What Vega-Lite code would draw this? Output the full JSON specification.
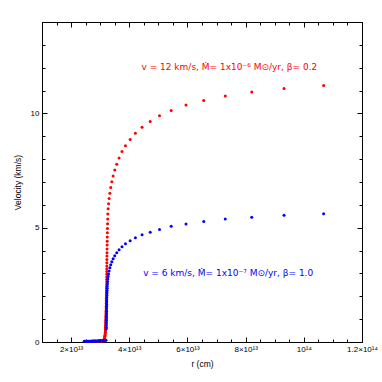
{
  "$schema": "https://vega.github.io/schema/vega-lite/v6.json",
  "width": 320,
  "height": 320,
  "autosize": {"type": "none"},
  "padding": {"left": 42, "top": 22, "right": 20, "bottom": 40},
  "background": "white",
  "config": {
    "view": {"stroke": "black", "strokeWidth": 1},
    "font": "Liberation Sans",
    "axis": {"domainColor": "black", "tickColor": "black", "labelColor": "black", "titleColor": "black", "labelFont": "Liberation Sans", "titleFont": "Liberation Sans", "labelFontSize": 8, "titleFontSize": 8.5, "titleFontWeight": "normal", "grid": false, "labelOverlap": false, "labelFlush": false, "labelBound": false}
  },
  "datasets": {
    "pts": [
      {"r": 10.68e13, "v": 11.22, "s": "red"},
      {"r": 9.32e13, "v": 11.09, "s": "red"},
      {"r": 8.21e13, "v": 10.94, "s": "red"},
      {"r": 7.30e13, "v": 10.76, "s": "red"},
      {"r": 6.56e13, "v": 10.57, "s": "red"},
      {"r": 5.95e13, "v": 10.37, "s": "red"},
      {"r": 5.44e13, "v": 10.13, "s": "red"},
      {"r": 5.04e13, "v": 9.90, "s": "red"},
      {"r": 4.72e13, "v": 9.65, "s": "red"},
      {"r": 4.44e13, "v": 9.39, "s": "red"},
      {"r": 4.21e13, "v": 9.13, "s": "red"},
      {"r": 4.03e13, "v": 8.86, "s": "red"},
      {"r": 3.87e13, "v": 8.59, "s": "red"},
      {"r": 3.75e13, "v": 8.33, "s": "red"},
      {"r": 3.65e13, "v": 8.05, "s": "red"},
      {"r": 3.57e13, "v": 7.78, "s": "red"},
      {"r": 3.50e13, "v": 7.52, "s": "red"},
      {"r": 3.445e13, "v": 7.26, "s": "red"},
      {"r": 3.40e13, "v": 7.01, "s": "red"},
      {"r": 3.363e13, "v": 6.76, "s": "red"},
      {"r": 3.333e13, "v": 6.51, "s": "red"},
      {"r": 3.308e13, "v": 6.28, "s": "red"},
      {"r": 3.288e13, "v": 6.05, "s": "red"},
      {"r": 3.272e13, "v": 5.83, "s": "red"},
      {"r": 3.262e13, "v": 5.60, "s": "red"},
      {"r": 3.258e13, "v": 5.38, "s": "red"},
      {"r": 3.254e13, "v": 5.17, "s": "red"},
      {"r": 3.250e13, "v": 4.97, "s": "red"},
      {"r": 3.247e13, "v": 4.78, "s": "red"},
      {"r": 3.244e13, "v": 4.59, "s": "red"},
      {"r": 3.241e13, "v": 4.41, "s": "red"},
      {"r": 3.239e13, "v": 4.24, "s": "red"},
      {"r": 3.237e13, "v": 4.07, "s": "red"},
      {"r": 3.235e13, "v": 3.91, "s": "red"},
      {"r": 3.233e13, "v": 3.76, "s": "red"},
      {"r": 3.231e13, "v": 3.61, "s": "red"},
      {"r": 3.229e13, "v": 3.47, "s": "red"},
      {"r": 3.228e13, "v": 3.33, "s": "red"},
      {"r": 3.227e13, "v": 3.20, "s": "red"},
      {"r": 3.226e13, "v": 3.08, "s": "red"},
      {"r": 3.225e13, "v": 2.96, "s": "red"},
      {"r": 3.224e13, "v": 2.84, "s": "red"},
      {"r": 3.223e13, "v": 2.73, "s": "red"},
      {"r": 3.222e13, "v": 2.62, "s": "red"},
      {"r": 3.221e13, "v": 2.52, "s": "red"},
      {"r": 3.220e13, "v": 2.42, "s": "red"},
      {"r": 3.219e13, "v": 2.33, "s": "red"},
      {"r": 3.218e13, "v": 2.24, "s": "red"},
      {"r": 3.217e13, "v": 2.15, "s": "red"},
      {"r": 3.216e13, "v": 2.07, "s": "red"},
      {"r": 3.215e13, "v": 1.98, "s": "red"},
      {"r": 3.214e13, "v": 1.91, "s": "red"},
      {"r": 3.213e13, "v": 1.83, "s": "red"},
      {"r": 3.212e13, "v": 1.76, "s": "red"},
      {"r": 3.211e13, "v": 1.69, "s": "red"},
      {"r": 3.210e13, "v": 1.62, "s": "red"},
      {"r": 3.209e13, "v": 1.56, "s": "red"},
      {"r": 3.208e13, "v": 1.50, "s": "red"},
      {"r": 3.207e13, "v": 1.44, "s": "red"},
      {"r": 3.206e13, "v": 1.38, "s": "red"},
      {"r": 3.205e13, "v": 1.33, "s": "red"},
      {"r": 3.204e13, "v": 1.28, "s": "red"},
      {"r": 3.203e13, "v": 1.23, "s": "red"},
      {"r": 3.202e13, "v": 1.18, "s": "red"},
      {"r": 3.201e13, "v": 1.13, "s": "red"},
      {"r": 3.200e13, "v": 1.09, "s": "red"},
      {"r": 3.199e13, "v": 1.05, "s": "red"},
      {"r": 3.198e13, "v": 1.00, "s": "red"},
      {"r": 3.197e13, "v": 0.96, "s": "red"},
      {"r": 3.196e13, "v": 0.92, "s": "red"},
      {"r": 3.195e13, "v": 0.88, "s": "red"},
      {"r": 3.194e13, "v": 0.84, "s": "red"},
      {"r": 3.193e13, "v": 0.80, "s": "red"},
      {"r": 3.192e13, "v": 0.76, "s": "red"},
      {"r": 3.191e13, "v": 0.72, "s": "red"},
      {"r": 3.190e13, "v": 0.68, "s": "red"},
      {"r": 3.188e13, "v": 0.64, "s": "red"},
      {"r": 3.186e13, "v": 0.60, "s": "red"},
      {"r": 3.184e13, "v": 0.56, "s": "red"},
      {"r": 3.182e13, "v": 0.52, "s": "red"},
      {"r": 3.180e13, "v": 0.48, "s": "red"},
      {"r": 3.177e13, "v": 0.44, "s": "red"},
      {"r": 3.174e13, "v": 0.40, "s": "red"},
      {"r": 3.170e13, "v": 0.35, "s": "red"},
      {"r": 3.166e13, "v": 0.30, "s": "red"},
      {"r": 3.160e13, "v": 0.25, "s": "red"},
      {"r": 3.153e13, "v": 0.20, "s": "red"},
      {"r": 3.145e13, "v": 0.15, "s": "red"},
      {"r": 3.135e13, "v": 0.10, "s": "red"},
      {"r": 3.12e13, "v": 0.06, "s": "red"},
      {"r": 3.08e13, "v": 0.03, "s": "red"},
      {"r": 3.00e13, "v": 0.03, "s": "red"},
      {"r": 2.92e13, "v": 0.03, "s": "red"},
      {"r": 2.84e13, "v": 0.03, "s": "red"},
      {"r": 2.76e13, "v": 0.03, "s": "red"},
      {"r": 2.68e13, "v": 0.03, "s": "red"},
      {"r": 2.60e13, "v": 0.03, "s": "red"},
      {"r": 2.52e13, "v": 0.03, "s": "red"},
      {"r": 10.68e13, "v": 5.61, "s": "blue"},
      {"r": 9.32e13, "v": 5.54, "s": "blue"},
      {"r": 8.21e13, "v": 5.46, "s": "blue"},
      {"r": 7.30e13, "v": 5.38, "s": "blue"},
      {"r": 6.56e13, "v": 5.27, "s": "blue"},
      {"r": 5.95e13, "v": 5.16, "s": "blue"},
      {"r": 5.44e13, "v": 5.06, "s": "blue"},
      {"r": 5.04e13, "v": 4.92, "s": "blue"},
      {"r": 4.72e13, "v": 4.80, "s": "blue"},
      {"r": 4.44e13, "v": 4.69, "s": "blue"},
      {"r": 4.21e13, "v": 4.56, "s": "blue"},
      {"r": 4.03e13, "v": 4.43, "s": "blue"},
      {"r": 3.87e13, "v": 4.30, "s": "blue"},
      {"r": 3.75e13, "v": 4.17, "s": "blue"},
      {"r": 3.65e13, "v": 4.04, "s": "blue"},
      {"r": 3.57e13, "v": 3.90, "s": "blue"},
      {"r": 3.50e13, "v": 3.77, "s": "blue"},
      {"r": 3.445e13, "v": 3.64, "s": "blue"},
      {"r": 3.40e13, "v": 3.51, "s": "blue"},
      {"r": 3.363e13, "v": 3.38, "s": "blue"},
      {"r": 3.333e13, "v": 3.25, "s": "blue"},
      {"r": 3.308e13, "v": 3.11, "s": "blue"},
      {"r": 3.288e13, "v": 2.98, "s": "blue"},
      {"r": 3.272e13, "v": 2.87, "s": "blue"},
      {"r": 3.262e13, "v": 2.76, "s": "blue"},
      {"r": 3.255e13, "v": 2.65, "s": "blue"},
      {"r": 3.249e13, "v": 2.55, "s": "blue"},
      {"r": 3.244e13, "v": 2.45, "s": "blue"},
      {"r": 3.240e13, "v": 2.35, "s": "blue"},
      {"r": 3.237e13, "v": 2.25, "s": "blue"},
      {"r": 3.234e13, "v": 2.15, "s": "blue"},
      {"r": 3.231e13, "v": 2.05, "s": "blue"},
      {"r": 3.229e13, "v": 1.95, "s": "blue"},
      {"r": 3.227e13, "v": 1.85, "s": "blue"},
      {"r": 3.225e13, "v": 1.75, "s": "blue"},
      {"r": 3.223e13, "v": 1.65, "s": "blue"},
      {"r": 3.221e13, "v": 1.55, "s": "blue"},
      {"r": 3.219e13, "v": 1.45, "s": "blue"},
      {"r": 3.218e13, "v": 1.35, "s": "blue"},
      {"r": 3.217e13, "v": 1.25, "s": "blue"},
      {"r": 3.216e13, "v": 1.15, "s": "blue"},
      {"r": 3.215e13, "v": 1.05, "s": "blue"},
      {"r": 3.214e13, "v": 0.95, "s": "blue"},
      {"r": 3.213e13, "v": 0.85, "s": "blue"},
      {"r": 3.212e13, "v": 0.75, "s": "blue"},
      {"r": 3.211e13, "v": 0.65, "s": "blue"},
      {"r": 3.210e13, "v": 0.58, "s": "blue"},
      {"r": 3.20e13, "v": 0.08, "s": "blue"},
      {"r": 3.17e13, "v": 0.07, "s": "blue"},
      {"r": 3.14e13, "v": 0.07, "s": "blue"},
      {"r": 3.11e13, "v": 0.06, "s": "blue"},
      {"r": 3.08e13, "v": 0.06, "s": "blue"},
      {"r": 3.05e13, "v": 0.06, "s": "blue"},
      {"r": 3.02e13, "v": 0.05, "s": "blue"},
      {"r": 2.99e13, "v": 0.05, "s": "blue"},
      {"r": 2.96e13, "v": 0.05, "s": "blue"},
      {"r": 2.93e13, "v": 0.05, "s": "blue"},
      {"r": 2.90e13, "v": 0.04, "s": "blue"},
      {"r": 2.87e13, "v": 0.04, "s": "blue"},
      {"r": 2.84e13, "v": 0.04, "s": "blue"},
      {"r": 2.81e13, "v": 0.04, "s": "blue"},
      {"r": 2.78e13, "v": 0.04, "s": "blue"},
      {"r": 2.75e13, "v": 0.04, "s": "blue"},
      {"r": 2.72e13, "v": 0.04, "s": "blue"},
      {"r": 2.69e13, "v": 0.03, "s": "blue"},
      {"r": 2.66e13, "v": 0.03, "s": "blue"},
      {"r": 2.63e13, "v": 0.03, "s": "blue"},
      {"r": 2.60e13, "v": 0.03, "s": "blue"},
      {"r": 2.57e13, "v": 0.03, "s": "blue"},
      {"r": 2.54e13, "v": 0.03, "s": "blue"},
      {"r": 2.51e13, "v": 0.03, "s": "blue"},
      {"r": 2.48e13, "v": 0.03, "s": "blue"},
      {"r": 2.45e13, "v": 0.03, "s": "blue"}
    ],
    "notes": [
      {"r": 7.44e13, "v": 12.05, "s": "red", "label": "v = 12 km/s, Ṁ= 1x10⁻⁶ M⊙/yr, β= 0.2"},
      {"r": 7.40e13, "v": 3.04, "s": "blue", "label": "v = 6 km/s, Ṁ= 1x10⁻⁷ M⊙/yr, β= 1.0"}
    ]
  },
  "layer": [
    {
      "data": {"name": "pts"},
      "mark": {"type": "point", "filled": true, "size": 9, "opacity": 1, "strokeWidth": 0},
      "encoding": {
        "x": {
          "field": "r", "type": "quantitative",
          "scale": {"domain": [1e13, 1.2e14], "nice": false, "zero": false},
          "axis": {
            "orient": "bottom", "title": "r (cm)", "titlePadding": 4,
            "values": [1e13, 1.5e13, 2e13, 2.5e13, 3e13, 3.5e13, 4e13, 4.5e13, 5e13, 5.5e13, 6e13, 6.5e13, 7e13, 7.5e13, 8e13, 8.5e13, 9e13, 9.5e13, 1e14, 1.05e14, 1.1e14, 1.15e14, 1.2e14],
            "labelExpr": "datum.value == 2e13 ? '2×10¹³' : datum.value == 4e13 ? '4×10¹³' : datum.value == 6e13 ? '6×10¹³' : datum.value == 8e13 ? '8×10¹³' : datum.value == 1e14 ? '10¹⁴' : datum.value == 1.2e14 ? '1.2×10¹⁴' : ''",
            "tickSize": {"condition": {"test": "datum.value % 2e13 == 0", "value": -5}, "value": -3},
            "labelPadding": 8
          }
        },
        "y": {
          "field": "v", "type": "quantitative",
          "scale": {"domain": [0, 14], "nice": false, "zero": false},
          "axis": {
            "orient": "left", "title": "Velocity (km/s)", "titlePadding": 8,
            "values": [0, 1, 2, 3, 4, 5, 6, 7, 8, 9, 10, 11, 12, 13, 14],
            "labelExpr": "datum.value % 5 == 0 ? datum.value : ''",
            "tickSize": {"condition": {"test": "datum.value % 5 == 0", "value": -5}, "value": -3},
            "labelPadding": 8
          }
        },
        "color": {"field": "s", "type": "nominal", "scale": {"domain": ["red", "blue"], "range": ["#ff0000", "#0000ff"]}, "legend": null}
      }
    },
    {
      "data": {"name": "notes"},
      "mark": {"type": "text", "font": "DejaVu Sans", "fontSize": 9, "align": "center", "baseline": "middle"},
      "encoding": {
        "x": {
          "field": "r", "type": "quantitative",
          "axis": {
            "orient": "top", "title": null, "labels": false,
            "values": [1e13, 1.5e13, 2e13, 2.5e13, 3e13, 3.5e13, 4e13, 4.5e13, 5e13, 5.5e13, 6e13, 6.5e13, 7e13, 7.5e13, 8e13, 8.5e13, 9e13, 9.5e13, 1e14, 1.05e14, 1.1e14, 1.15e14, 1.2e14],
            "tickSize": {"condition": {"test": "datum.value % 2e13 == 0", "value": -5}, "value": -3}
          }
        },
        "y": {
          "field": "v", "type": "quantitative",
          "axis": {
            "orient": "right", "title": null, "labels": false,
            "values": [0, 1, 2, 3, 4, 5, 6, 7, 8, 9, 10, 11, 12, 13, 14],
            "tickSize": {"condition": {"test": "datum.value % 5 == 0", "value": -5}, "value": -3}
          }
        },
        "text": {"field": "label"},
        "color": {"field": "s", "type": "nominal", "legend": null}
      }
    }
  ]
}
